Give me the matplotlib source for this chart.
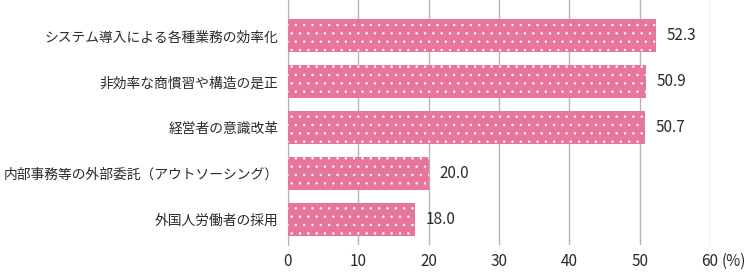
import matplotlib
matplotlib.use('Agg')
import matplotlib.pyplot as plt
import matplotlib.transforms as mtrans

plt.rcParams['font.family'] = ['Noto Sans CJK JP', 'DejaVu Sans']
plt.rcParams['hatch.color'] = 'white'
plt.rcParams['hatch.linewidth'] = 0.5

labels = ['システム導入による各種業務の効率化', '非効率な商慣習や構造の是正', '経営者の意識改革',
          '内部事務等の外部委託（アウトソーシング）', '外国人労働者の採用']
values = [52.3, 50.9, 50.7, 20.0, 18.0]
xticks = [0, 10, 20, 30, 40, 50, 60]

fig = plt.figure(figsize=(7.5, 2.72), dpi=100)
ax = fig.add_axes([0.384, 0.10, 0.5627, 0.90])

pos = list(range(len(values)))
ax.barh(pos, values, height=0.72, color='#e8759a', edgecolor='white', linewidth=0,
        hatch='..', zorder=3)
for p, v in zip(pos, values):
    ax.text(v + 1.55, p, f'{v:.1f}', va='center', ha='left', fontsize=11, color='#2a2a2a')

ax.set_xlim(0, 60)
ax.set_ylim(4.55, -0.783)
ax.set_yticks(pos)
ax.set_yticklabels(labels, fontsize=9.9, color='#2a2a2a')
ax.set_xticks(xticks)
ax.set_xticklabels([str(t) for t in xticks], fontsize=11, color='#2a2a2a')
ax.tick_params(length=0, pad=7)
ax.tick_params(axis='x', pad=6)
ax.xaxis.grid(True, color='#b4b4b4', linewidth=1, zorder=0)
for s in ['top', 'right', 'bottom']:
    ax.spines[s].set_visible(False)
ax.spines['left'].set_color('#b4b4b4')

# unit label next to the last tick
pct = ax.text(61.6, 4.55, '(%)', ha='left', va='top', fontsize=11, color='#2a2a2a',
              clip_on=False,
              transform=mtrans.offset_copy(ax.transData, fig=fig, y=-6, units='points'))

fig.savefig('out.png', dpi=100)
